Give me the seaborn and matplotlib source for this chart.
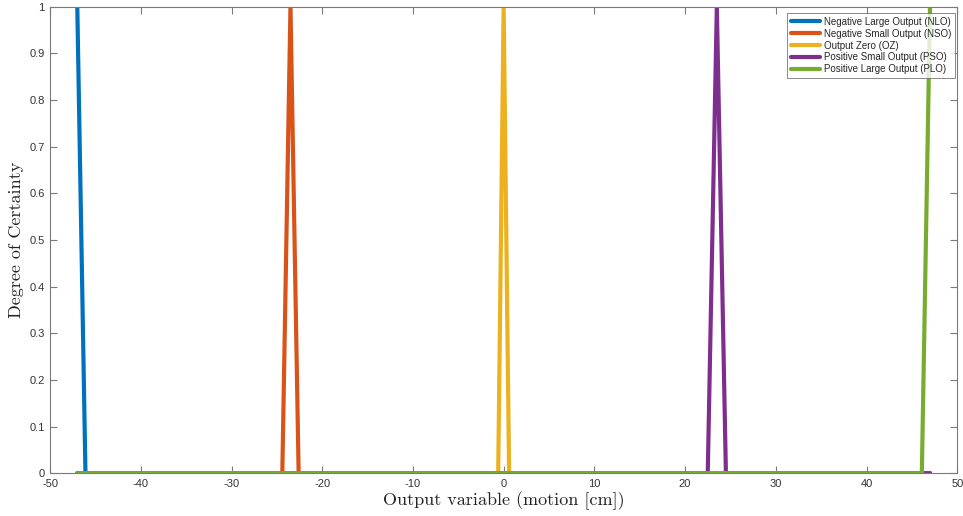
import matplotlib
matplotlib.use("Agg")
import matplotlib.pyplot as plt
import seaborn as sns
import pandas as pd

# membership functions (vertices)
nlo_x = [-47, -46.1, 47]
nlo_y = [1, 0, 0]
nso_x = [-47, -24.4, -23.5, -22.6, 47]
nso_y = [0, 0, 1, 0, 0]
oz_x = [-47, -0.6, 0, 0.6, 47]
oz_y = [0, 0, 1, 0, 0]
pso_x = [-47, 22.5, 23.5, 24.5, 47]
pso_y = [0, 0, 1, 0, 0]
plo_x = [-47, 46.1, 47]
plo_y = [0, 0, 1]

labels = ['Negative Large Output (NLO)', 'Negative Small Output (NSO)',
          'Output Zero (OZ)', 'Positive Small Output (PSO)',
          'Positive Large Output (PLO)']
colors = ['#0072BD', '#D95319', '#EDB120', '#7E2F8E', '#77AC30']

xticks = list(range(-50, 51, 10))
yticks = [0, 0.1, 0.2, 0.3, 0.4, 0.5, 0.6, 0.7, 0.8, 0.9, 1]
ytick_labels = ['0', '0.1', '0.2', '0.3', '0.4', '0.5', '0.6', '0.7', '0.8', '0.9', '1']

frames = []
for lab, xs, ys in zip(labels, [nlo_x, nso_x, oz_x, pso_x, plo_x],
                       [nlo_y, nso_y, oz_y, pso_y, plo_y]):
    frames.append(pd.DataFrame({'x': xs, 'y': ys, 'mf': lab}))
df = pd.concat(frames, ignore_index=True)

sns.set_style("white")
plt.rcParams['font.family'] = ['Liberation Sans', 'DejaVu Sans']
plt.rcParams['axes.unicode_minus'] = False

fig = plt.figure(figsize=(9.63, 5.16), dpi=100)
ax = fig.add_axes([0.052, 0.083, 0.942, 0.904])

sns.lineplot(data=df, x='x', y='y', hue='mf', hue_order=labels,
             palette=colors, estimator=None, sort=False, linewidth=3,
             legend=False, ax=ax)

ax.set_xlim(-50, 50)
ax.set_ylim(0, 1)
ax.set_xticks(xticks)
ax.set_xticklabels([str(t) for t in xticks])
ax.set_yticks(yticks)
ax.set_yticklabels(ytick_labels)
ax.tick_params(direction='in', length=5, width=0.8, color='#7a7a7a',
               labelcolor='#333333', labelsize=8, top=True, right=True,
               bottom=True, left=True, pad=4)
for s in ax.spines.values():
    s.set_color('#7a7a7a')
    s.set_linewidth(0.8)

ax.set_xlabel('Output variable (motion [cm])', fontfamily='cmr10',
              fontsize=13, color='#222222', labelpad=2)
ax.set_ylabel('Degree of Certainty', fontfamily='cmr10',
              fontsize=13, color='#222222', labelpad=4)

handles = ax.get_lines()[:5]
leg = ax.legend(handles, labels, loc='upper right', fontsize=7,
                frameon=True, fancybox=False, handlelength=3.0,
                borderpad=0.4, labelspacing=0.2, handletextpad=0.4,
                borderaxespad=0, bbox_to_anchor=(0.998, 0.987))
leg.get_frame().set_edgecolor('#555555')
leg.get_frame().set_linewidth(0.6)

fig.savefig('out.png', dpi=100)
plt.close(fig)
